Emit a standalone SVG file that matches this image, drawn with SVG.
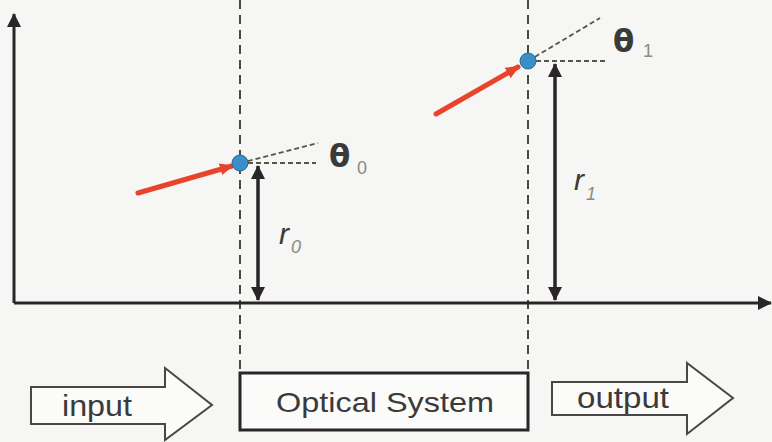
<svg xmlns="http://www.w3.org/2000/svg" width="772" height="442" viewBox="0 0 772 442">
<defs>
<marker id="ahb" markerWidth="14" markerHeight="14" refX="13" refY="7" orient="auto-start-reverse" markerUnits="userSpaceOnUse"><path d="M0,0 L14,7 L0,14 z" fill="#2a2528"/></marker>
<marker id="ahr" markerWidth="14" markerHeight="14" refX="12" refY="7" orient="auto" markerUnits="userSpaceOnUse"><path d="M0,1 L14,7 L0,13 z" fill="#e8442c"/></marker>
</defs>
<style>
.axis{stroke:#2a2528;stroke-width:3;fill:none}
.guide{stroke:#4a4a3e;stroke-width:2;stroke-dasharray:9 6;fill:none}
.ang{stroke:#555548;stroke-width:1.8;stroke-dasharray:5 3;fill:none}
.dim{stroke:#2a2528;stroke-width:3.5;fill:none}
.ray{stroke:#e8442c;stroke-width:5;stroke-linecap:round;fill:none}
.pt{fill:#3b8fc8;stroke:#2a6c9a;stroke-width:1}
.blk{fill:#fbfbfa;stroke:#4a4646;stroke-width:2}
.lbl{font-family:"Liberation Sans",Arial,sans-serif;fill:#3a3a3a}
.th{font-family:"DejaVu Sans",sans-serif;font-weight:bold;font-size:31px;fill:#3a3a3a}
.sub{font-family:"Liberation Sans",Arial,sans-serif;font-size:18px;fill:#8a8a80}
.r{font-family:"Liberation Sans",Arial,sans-serif;font-style:italic;font-size:30px;fill:#3a3a3a}
</style>
<rect width="772" height="442" fill="#f6f6f4"/>
<g id="connectors">
<line class="guide" x1="240" y1="0" x2="240" y2="372"/>
<line class="guide" x1="528" y1="0" x2="528" y2="372"/>
<line class="axis" x1="14" y1="303" x2="14" y2="14" marker-end="url(#ahb)"/>
<line class="axis" x1="14" y1="303" x2="771" y2="303" marker-end="url(#ahb)"/>
<line class="dim" x1="258" y1="300" x2="258" y2="166" marker-start="url(#ahb)" marker-end="url(#ahb)"/>
<line class="dim" x1="555" y1="300" x2="555" y2="64" marker-start="url(#ahb)" marker-end="url(#ahb)"/>
<line class="ang" x1="240" y1="163" x2="318" y2="143"/>
<line class="ang" x1="240" y1="163" x2="316" y2="163"/>
<line class="ang" x1="528" y1="61" x2="600" y2="18"/>
<line class="ang" x1="528" y1="61" x2="608" y2="61"/>
<line class="ray" x1="138" y1="193" x2="232" y2="166" marker-end="url(#ahr)"/>
<line class="ray" x1="436" y1="114" x2="518" y2="67" marker-end="url(#ahr)"/>
</g>
<g id="point0"><circle class="pt" cx="240" cy="163" r="8"/></g>
<g id="point1"><circle class="pt" cx="528" cy="61" r="8"/></g>
<g id="theta0"><text class="th" x="329" y="167">θ</text><text class="sub" x="357" y="174">0</text></g>
<g id="theta1"><text class="th" x="613" y="52">θ</text><text class="sub" x="643" y="57">1</text></g>
<g id="r0"><text class="r" x="279" y="244">r</text><text class="sub" x="291" y="253" font-style="italic" fill="#777">0</text></g>
<g id="r1"><text class="r" x="574" y="190">r</text><text class="sub" x="586" y="200" font-style="italic" fill="#777">1</text></g>
<g id="input"><path class="blk" d="M31,387 L165,387 L165,368 L212,405 L165,440 L165,424 L31,424 Z"/><text class="lbl" x="62" y="416" font-size="30" textLength="70" lengthAdjust="spacingAndGlyphs">input</text></g>
<g id="optical-system"><rect x="240" y="373" width="288" height="57" fill="#fbfbfa" stroke="#2a2528" stroke-width="3"/><text class="lbl" x="276" y="412" font-size="28" textLength="218" lengthAdjust="spacingAndGlyphs">Optical System</text></g>
<g id="output"><path class="blk" d="M552,382 L687,382 L687,363 L733,398 L687,434 L687,415 L552,415 Z"/><text class="lbl" x="577" y="408" font-size="30" textLength="92" lengthAdjust="spacingAndGlyphs">output</text></g>
</svg>
